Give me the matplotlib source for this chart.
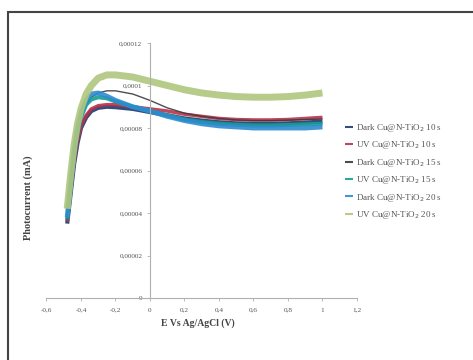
import matplotlib
matplotlib.use("Agg")
import matplotlib.pyplot as plt
from matplotlib.patches import Rectangle

plt.rcParams['font.family'] = ['Liberation Serif', 'DejaVu Serif']

# potential (V vs Ag/AgCl)
potential = [-0.48, -0.46, -0.44, -0.42, -0.40, -0.37, -0.34, -0.30, -0.25, -0.20, -0.10,
             0.0, 0.1, 0.2, 0.3, 0.4, 0.5, 0.6, 0.7, 0.8, 0.9, 1.0]

# photocurrent, in units of 1e-5 mA
dark_10 = [3.5, 4.9, 6.3, 7.3, 8.0, 8.5, 8.8, 8.95, 9.0, 8.98, 8.9,
           8.75, 8.6, 8.45, 8.35, 8.27, 8.22, 8.2, 8.2, 8.22, 8.26, 8.3]
uv_10 = [3.6, 5.0, 6.4, 7.4, 8.1, 8.6, 8.9, 9.05, 9.1, 9.1, 9.0,
         8.9, 8.8, 8.65, 8.55, 8.45, 8.4, 8.38, 8.38, 8.4, 8.45, 8.5]
dark_15 = [3.7, 5.2, 6.6, 7.7, 8.5, 9.1, 9.45, 9.65, 9.75, 9.75, 9.6,
           9.3, 8.95, 8.7, 8.55, 8.45, 8.38, 8.35, 8.35, 8.37, 8.4, 8.42]
uv_15 = [3.7, 5.2, 6.7, 7.8, 8.5, 9.1, 9.35, 9.45, 9.4, 9.25, 9.0,
         8.8, 8.6, 8.4, 8.28, 8.2, 8.15, 8.12, 8.12, 8.14, 8.17, 8.2]
dark_20 = [3.8, 5.4, 6.9, 8.0, 8.7, 9.3, 9.6, 9.65, 9.5, 9.3, 9.0,
           8.8, 8.55, 8.35, 8.2, 8.1, 8.05, 8.0, 8.0, 8.0, 8.0, 8.05]
uv_20 = [4.2, 5.8, 7.2, 8.2, 8.9, 9.6, 10.0, 10.35, 10.5, 10.5, 10.4,
         10.2, 10.0, 9.8, 9.65, 9.55, 9.48, 9.45, 9.45, 9.48, 9.55, 9.65]

labels = ["Dark Cu@N-TiO$_2$ 10 s", "UV Cu@N-TiO$_2$ 10 s",
          "Dark Cu@N-TiO$_2$ 15 s", "UV Cu@N-TiO$_2$ 15 s",
          "Dark Cu@N-TiO$_2$ 20 s", "UV Cu@N-TiO$_2$ 20 s"]
series = [dark_10, uv_10, dark_15, uv_15, dark_20, uv_20]
colors = ['#1F3A6E', '#B8324A', '#3A3A3A', '#169C93', '#2E8BD0', '#AFC77D']
widths = [3.0, 2.5, 1.0, 3.0, 3.5, 5.0]

xticks = [-0.6, -0.4, -0.2, 0, 0.2, 0.4, 0.6, 0.8, 1, 1.2]
xticklabels = ["-0,6", "-0,4", "-0,2", "0", "0,2", "0,4", "0,6", "0,8", "1", "1,2"]
yticks = [0, 0.00002, 0.00004, 0.00006, 0.00008, 0.0001, 0.00012]
yticklabels = ["0", "0,00002", "0,00004", "0,00006", "0,00008", "0,0001", "0,00012"]

fig = plt.figure(figsize=(4.73, 3.6), dpi=100)
ax = fig.add_axes([0.0983, 0.1722, 0.6564, 0.7083])

handles = []
for ys, c, lw, lab in zip(series, colors, widths, labels):
    ln, = ax.plot(potential, [v * 1e-5 for v in ys], color=c, lw=lw, label=lab,
                  solid_capstyle='butt', alpha=0.9)
    handles.append(ln)

ax.set_xlim(-0.6, 1.2)
ax.set_ylim(0, 0.00012)
ax.set_xticks(xticks)
ax.set_xticklabels(xticklabels)
ax.set_yticks(yticks)
ax.set_yticklabels(yticklabels)

for s in ['top', 'right']:
    ax.spines[s].set_visible(False)
ax.spines['left'].set_position(('data', 0))
ax.spines['bottom'].set_position(('data', 0))
for s in ['left', 'bottom']:
    ax.spines[s].set_color('#B0B0B0')
    ax.spines[s].set_linewidth(0.8)
ax.tick_params(colors='#B0B0B0', labelcolor='#555555', labelsize=5.2, length=2, width=0.6)
ax.tick_params(axis='x', pad=5)

fig.text(0.418, 0.103, "E Vs Ag/AgCl (V)", ha='center', va='center',
         fontsize=7, fontweight='bold', color='#444444')
fig.text(0.059, 0.45, "Photocurrent (mA)", ha='center', va='center', rotation=90,
         fontsize=7.5, fontweight='bold', color='#444444')

leg = fig.legend(handles=handles, loc='upper left', bbox_to_anchor=(0.712, 0.684),
                 frameon=False, fontsize=6.5, handlelength=0.85, handletextpad=0.35,
                 labelspacing=0.6)
for t in leg.get_texts():
    t.set_color('#555555')
for h in leg.legend_handles:
    h.set_linewidth(1.5)

fig.add_artist(Rectangle((8 / 473, -0.1), 1.0, 348 / 360 + 0.1, transform=fig.transFigure,
                         fill=False, ec='#444444', lw=1.5))

fig.savefig("out.png", dpi=100)
